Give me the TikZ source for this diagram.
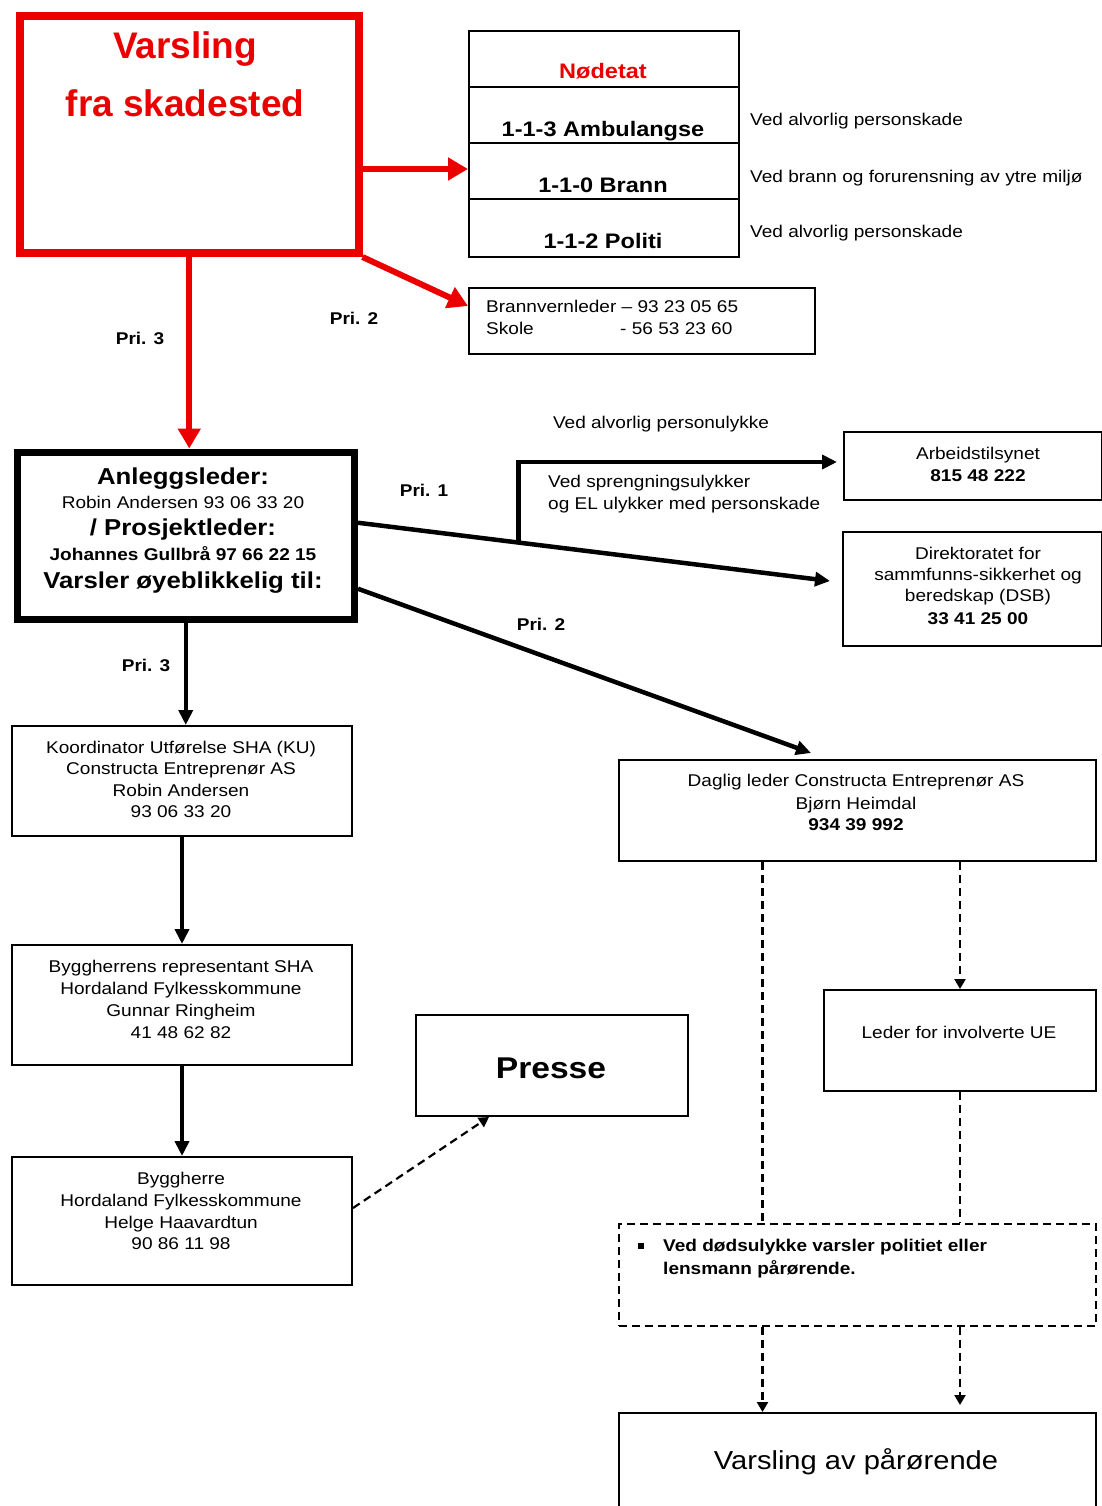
\documentclass[tikz,border=0pt]{standalone}
\usepackage{fontspec}
\setmainfont{Liberation Sans}[FakeStretch=1.12]
\newfontfamily\titlefont{Liberation Sans}
\usetikzlibrary{arrows.meta,calc}
\definecolor{vred}{RGB}{235,0,0}
\begin{document}
\begin{tikzpicture}[x=1pt,y=-1pt,
  box/.style={draw, line width=2pt, inner sep=0pt, anchor=north west},
  redbox/.style={draw=vred, line width=8pt, inner sep=0pt, anchor=north west},
  titletxt/.style={inner sep=0pt, anchor=base, text=vred, font=\titlefont\bfseries\fontsize{37}{40}\selectfont},
  rowtxt/.style={inner sep=0pt, anchor=base, font=\bfseries\fontsize{21}{24}\selectfont},
  txt/.style={inner sep=0pt, anchor=base, font=\fontsize{17}{20}\selectfont},
  txtb/.style={txt, font=\bfseries\fontsize{17}{20}\selectfont},
  txtl/.style={txt, anchor=base west},
  txtlb/.style={txtb, anchor=base west},
  bigb/.style={inner sep=0pt, anchor=base, font=\bfseries\fontsize{23}{26}\selectfont},
  redarr/.style={draw=vred, line width=6pt, -{Triangle[length=20pt,width=22pt]}},
  blkarr/.style={draw, line width=4.5pt, -{Triangle[length=15pt,width=14pt]}},
  dashl/.style={draw, line width=2.2pt, dash pattern=on 8pt off 5pt},
  dasharr/.style={dashl, -{Triangle[length=10pt,width=11pt]}}
]
\useasboundingbox (0,0) rectangle (1102,1506);
\clip (0,0) rectangle (1102,1506);

% Varsling fra skadested
\node[redbox, minimum width=338.5, minimum height=236.5] (vars) at (16,12.5) {};
\node[titletxt] (t1) at (185,59) {Varsling};
\node[titletxt] (t2) at (185,117) {fra skadested};

% Nodetat table
\node[box, minimum width=270, minimum height=56] (n0) at (468,30) {};
\node[box, minimum width=270, minimum height=56] (n1) at (468,86) {};
\node[box, minimum width=270, minimum height=56] (n2) at (468,142) {};
\node[box, minimum width=270, minimum height=58] (n3) at (468,198) {};
\node[rowtxt, text=vred] (tn0) at (603,79) {Nødetat};
\node[rowtxt] (tn1) at (603,137) {1-1-3 Ambulangse};
\node[rowtxt] (tn2) at (603,193) {1-1-0 Brann};
\node[rowtxt] (tn3) at (603,249) {1-1-2 Politi};
\node[txtl] (s1) at (750,126) {Ved alvorlig personskade};
\node[txtl] (s2) at (750,183) {Ved brann og forurensning av ytre miljø};
\node[txtl] (s3) at (750,238) {Ved alvorlig personskade};

% Brannvernleder
\node[box, minimum width=346, minimum height=66] (bv) at (468,287) {};
\node[txtl] (bv1) at (486,312) {Brannvernleder – 93 23 05 65};
\node[txtl] (bv2) at (486,334) {Skole};
\node[txtl] (bv3) at (620,334) {- 56 53 23 60};

% Anleggsleder
\node[box, line width=7pt, minimum width=337.5, minimum height=167.5] (anl) at (13.5,448.5) {};
\node[bigb] (a1) at (183,484) {Anleggsleder:};
\node[txt] (a2) at (183,508) {Robin Andersen 93 06 33 20};
\node[bigb] (a3) at (183,535) {/ Prosjektleder:};
\node[txtb] (a4) at (183,560) {Johannes Gullbrå 97 66 22 15};
\node[bigb] (a5) at (183,588) {Varsler øyeblikkelig til:};

% red arrows
\coordinate (r1s) at ([yshift=-34.25pt]vars.east);
\draw[redarr] (r1s) -- (r1s -| n2.west);
\draw[redarr] (vars.south east) -- ([yshift=15pt]bv.west);
\draw[redarr] (vars.south) -- (vars.south |- anl.north);
\node[txtb] (pri3a) at (140,344) {Pri. 3};
\node[txtb] (pri2a) at (354,324) {Pri. 2};

% Arbeidstilsynet and DSB
\node[box, minimum width=258, minimum height=68] (arb) at (843,431) {};
\node[txt] (arb1) at (978,459) {Arbeidstilsynet};
\node[txtb] (arb2) at (978,481) {815 48 222};
\node[box, minimum width=259, minimum height=114] (dsb) at (842,531) {};
\node[txt] (d1) at (978,559) {Direktoratet for};
\node[txt] (d2) at (978,580) {sammfunns-sikkerhet og};
\node[txt] (d3) at (978,601) {beredskap (DSB)};
\node[txtb] (d4) at (978,624) {33 41 25 00};

\node[txt] (l1) at (661,428) {Ved alvorlig personulykke};
\node[txtl] (l2) at (548,487) {Ved sprengningsulykker};
\node[txtl] (l3) at (548,509) {og EL ulykker med personskade};
\node[txtb] (pri1) at (424,496) {Pri. 1};
\node[txtb] (pri2b) at (541,630) {Pri. 2};
\node[txtb] (pri3b) at (146,671) {Pri. 3};

% Pri 1 connectors
\coordinate (p1s) at ([yshift=13pt]anl.east);
\coordinate (p1e) at ([xshift=-12pt,yshift=8pt]dsb.west);
\draw[blkarr] (p1s) -- (p1e);
\coordinate (br) at ($(p1s)!0.34!(p1e)$);
\coordinate (arbt) at ([xshift=-6pt,yshift=4pt]arb.west);
\draw[blkarr] ([yshift=2pt]br) |- (arbt);

% Daglig leder
\node[box, minimum width=477, minimum height=101] (dag) at (618,759) {};
\node[txt] (g1) at (856,786) {Daglig leder Constructa Entreprenør AS};
\node[txt] (g2) at (856,809) {Bjørn Heimdal};
\node[txtb] (g3) at (856,830) {934 39 992};
\coordinate (p2s) at ([yshift=-53pt]anl.east);
\coordinate (p2e) at ([xshift=-46.5pt,yshift=6pt]dag.north);
\draw[blkarr] (p2s) -- (p2e);

% Left column
\node[box, minimum width=340, minimum height=110] (koo) at (11,725) {};
\node[txt] (k1) at (181,753) {Koordinator Utførelse SHA (KU)};
\node[txt] (k2) at (181,774) {Constructa Entreprenør AS};
\node[txt] (k3) at (181,796) {Robin Andersen};
\node[txt] (k4) at (181,817) {93 06 33 20};
\draw[blkarr] (anl.south) -- (anl.south |- koo.north);

\node[box, minimum width=340, minimum height=120] (byg1) at (11,944) {};
\node[txt] (b1) at (181,972) {Byggherrens representant SHA};
\node[txt] (b2) at (181,994) {Hordaland Fylkesskommune};
\node[txt] (b3) at (181,1016) {Gunnar Ringheim};
\node[txt] (b4) at (181,1038) {41 48 62 82};
\draw[blkarr] (koo.south) -- (byg1.north);

\node[box, minimum width=340, minimum height=128] (byg2) at (11,1156) {};
\node[txt] (c1) at (181,1184) {Byggherre};
\node[txt] (c2) at (181,1206) {Hordaland Fylkesskommune};
\node[txt] (c3) at (181,1228) {Helge Haavardtun};
\node[txt] (c4) at (181,1249) {90 86 11 98};
\draw[blkarr] (byg1.south) -- (byg2.north);

% Presse
\node[box, minimum width=272, minimum height=101] (presse) at (415,1014) {};
\node[inner sep=0pt, anchor=base, font=\bfseries\fontsize{30}{34}\selectfont] (pt) at (551,1078) {Presse};
\draw[dasharr] ([yshift=13pt]byg2.east) -- ([xshift=-63pt]presse.south);

% Leder for involverte UE
\node[box, minimum width=272, minimum height=101] (leder) at (823,989) {};
\node[txt] (le1) at (959,1038) {Leder for involverte UE};

% Dashed note box
\node[draw, line width=1.6pt, dash pattern=on 8pt off 5pt, inner sep=0pt, anchor=north west,
      minimum width=477, minimum height=102] (dsh) at (618,1223) {};
\node[fill, inner sep=0pt, minimum size=6pt] (bul) at (641,1246) {};
\node[txtlb] (n1t) at (663,1251) {Ved dødsulykke varsler politiet eller};
\node[txtlb] (n2t) at (663,1274) {lensmann pårørende.};

% Varsling av parorende
\node[box, minimum width=477, minimum height=120] (vap) at (618,1412) {};
\node[inner sep=0pt, anchor=base, font=\fontsize{26}{30}\selectfont] (vt) at (856,1469) {Varsling av pårørende};

% dashed connectors on the right
\coordinate (dl) at ([xshift=-95pt]dag.south);
\draw[dashl] (dl) -- (dl |- dsh.north);
\coordinate (dl2) at (dl |- dsh.south);
\draw[dasharr] (dl2) -- (dl2 |- vap.north);
\draw[dasharr] (leder.north |- dag.south) -- (leder.north);
\draw[dashl] (leder.south) -- (leder.south |- dsh.north);
\coordinate (rt) at (leder.south |- vap.north);
\draw[dasharr] (leder.south |- dsh.south) -- ([yshift=7pt]rt);
\end{tikzpicture}
\end{document}
